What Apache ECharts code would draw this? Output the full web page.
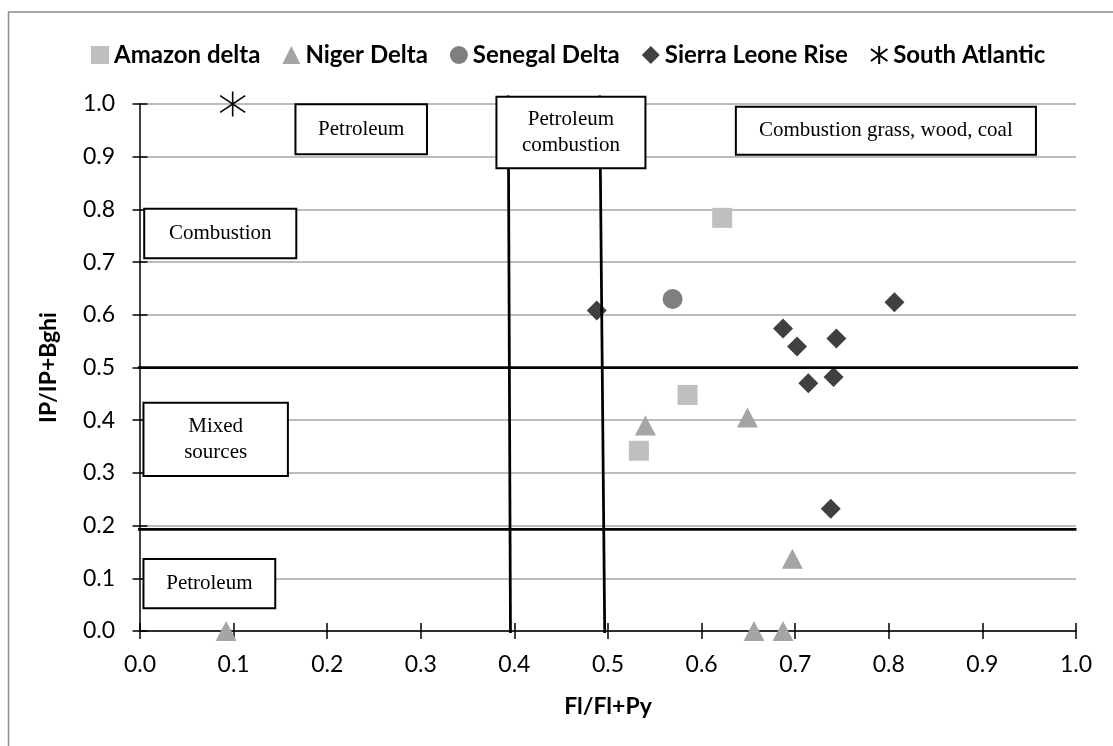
<!DOCTYPE html>
<html>
<head>
<meta charset="utf-8">
<script src="https://cdn.jsdelivr.net/npm/echarts@6/dist/echarts.min.js"></script>
<style>
  html, body { margin: 0; padding: 0; background: #fff; overflow: hidden; }
  #chart { width: 1113px; height: 746px; }
</style>
</head>
<body>
<div id="chart"></div>
<script>
// ---- data: [Fl/(Fl+Py), IP/(IP+Bghi)] per sample ----
const seriesNames = ['Amazon delta', 'Niger Delta', 'Senegal Delta', 'Sierra Leone Rise', 'South Atlantic'];

const amazonDelta = [[0.622, 0.784], [0.585, 0.448], [0.533, 0.342]];
const nigerDelta = [[0.092, 0.0], [0.540, 0.390], [0.649, 0.405], [0.697, 0.137], [0.656, 0.0], [0.687, 0.0]];
const senegalDelta = [[0.569, 0.630]];
const sierraLeoneRise = [[0.488, 0.608], [0.687, 0.574], [0.702, 0.540], [0.744, 0.555],
                         [0.714, 0.470], [0.741, 0.482], [0.738, 0.232], [0.806, 0.624]];
const southAtlantic = [[0.099, 1.0]];

// diagnostic ratio thresholds
const thresholdFl1 = [[0.3934, 1.016], [0.3958, -0.004]];
const thresholdFl2 = [[0.4911, 1.016], [0.4965, -0.004]];
const thresholdIp1 = [[-0.006, 0.5], [1.0035, 0.5]];
const thresholdIp2 = [[-0.006, 0.193], [1.0005, 0.193]];

// source-class labels
const regionLabels = ['Petroleum', 'Petroleum\ncombustion', 'Combustion grass, wood, coal',
                      'Combustion', 'Mixed\nsources', 'Petroleum'];

const axisTickValues = ['0.0', '0.1', '0.2', '0.3', '0.4', '0.5', '0.6', '0.7', '0.8', '0.9', '1.0'];

// ---- layout of the labelled region boxes, in axis units [x0, y0, x1, y1] ----
const regionBoxes = [
  [0.1661, 0.9994, 0.3066, 0.9046],
  [0.3808, 1.0139, 0.5400, 0.8780],
  [0.6366, 0.9949, 0.9572, 0.9038],
  [0.0045, 0.8013, 0.1670, 0.7072],
  [0.0037, 0.4332, 0.1580, 0.2941],
  [0.0037, 0.1366, 0.1445, 0.0431]
];

const SANS = 'Lato';
const SERIF = '"Liberation Serif"';
const tickFmt = v => axisTickValues[Math.round(v * 10)] ?? v.toFixed(1);

const starPath = 'path://M12,0 L12,24 M1,4 L23,20 M1,20 L23,4';

function thresholdSeries(data) {
  return {
    type: 'line', data, symbol: 'none', clip: false, silent: true, z: 4,
    lineStyle: { color: '#000', width: 2.75 }, animation: false
  };
}

const chart = echarts.init(document.getElementById('chart'), null, { renderer: 'canvas' });

const baseX = {
  type: 'value', min: 0, max: 1, interval: 0.1, position: 'bottom', gridIndex: 0
};
const baseY = {
  type: 'value', min: 0, max: 1, interval: 0.1, position: 'left', gridIndex: 0
};

chart.setOption({
  animation: false,
  backgroundColor: '#fff',
  textStyle: { fontFamily: SANS },
  legend: {
    left: 86, top: 38,
    itemWidth: 18, itemHeight: 18, itemGap: 22,
    data: seriesNames,
    textStyle: { fontFamily: SANS, fontWeight: 'bold', fontSize: 24, color: '#000' }
  },
  grid: { left: 140, top: 104, right: 37, bottom: 115 },
  xAxis: [
    Object.assign({}, baseX, {
      name: 'Fl/Fl+Py', nameLocation: 'middle', nameGap: 64,
      nameTextStyle: { fontFamily: SANS, fontWeight: 'bold', fontSize: 23, color: '#000' },
      axisLine: { show: true, lineStyle: { color: '#000', width: 1.5 } },
      axisTick: { show: true, inside: false, length: 8, lineStyle: { color: '#000', width: 1.5 } },
      axisLabel: { show: true, margin: 22, formatter: tickFmt, showMinLabel: true, showMaxLabel: true,
                   fontFamily: SANS, fontSize: 23, color: '#000' },
      splitLine: { show: false }
    }),
    Object.assign({}, baseX, {
      axisLine: { show: false },
      axisTick: { show: true, inside: true, length: 8, lineStyle: { color: '#000', width: 1.5 } },
      axisLabel: { show: false },
      splitLine: { show: false }
    })
  ],
  yAxis: [
    Object.assign({}, baseY, {
      name: 'IP/IP+Bghi', nameLocation: 'middle', nameGap: 80, nameRotate: 90,
      nameTextStyle: { fontFamily: SANS, fontWeight: 'bold', fontSize: 23, color: '#000' },
      axisLine: { show: true, lineStyle: { color: '#000', width: 1.5 } },
      axisTick: { show: true, inside: false, length: 7.5, lineStyle: { color: '#000', width: 1.5 } },
      axisLabel: { show: true, margin: 25, formatter: tickFmt, showMinLabel: true, showMaxLabel: true,
                   fontFamily: SANS, fontSize: 23, color: '#000' },
      splitLine: { show: true, lineStyle: { color: '#A6A6A6', width: 1.5 } }
    }),
    Object.assign({}, baseY, {
      axisLine: { show: false },
      axisTick: { show: true, inside: true, length: 7.5, lineStyle: { color: '#000', width: 1.5 } },
      axisLabel: { show: false },
      splitLine: { show: false }
    })
  ],
  series: [
    { name: seriesNames[0], type: 'scatter', data: amazonDelta, symbol: 'rect', symbolSize: 20,
      clip: false, z: 3, itemStyle: { color: '#BFBFBF', opacity: 1 } },
    { name: seriesNames[1], type: 'scatter', data: nigerDelta, symbol: 'triangle', symbolSize: [21, 20],
      clip: false, z: 3, itemStyle: { color: '#A5A5A5', opacity: 1 } },
    { name: seriesNames[2], type: 'scatter', data: senegalDelta, symbol: 'circle', symbolSize: 20,
      clip: false, z: 3, itemStyle: { color: '#7F7F7F', opacity: 1 } },
    { name: seriesNames[3], type: 'scatter', data: sierraLeoneRise, symbol: 'diamond', symbolSize: 20,
      clip: false, z: 3, itemStyle: { color: '#404040', opacity: 1 } },
    { name: seriesNames[4], type: 'scatter', data: southAtlantic, symbol: starPath, symbolSize: 25,
      clip: false, z: 3, itemStyle: { color: 'rgba(0,0,0,0)', borderColor: '#000', borderWidth: 1.6, opacity: 1 } },
    thresholdSeries(thresholdFl1),
    thresholdSeries(thresholdFl2),
    thresholdSeries(thresholdIp1),
    thresholdSeries(thresholdIp2),
    {
      type: 'custom', silent: true, clip: false, z: 6,
      data: regionBoxes,
      renderItem(params, api) {
        const p0 = api.coord([api.value(0), api.value(1)]);
        const p1 = api.coord([api.value(2), api.value(3)]);
        const x = Math.min(p0[0], p1[0]), y = Math.min(p0[1], p1[1]);
        const w = Math.abs(p1[0] - p0[0]), h = Math.abs(p1[1] - p0[1]);
        return {
          type: 'group',
          children: [
            { type: 'rect', shape: { x, y, width: w, height: h },
              style: { fill: '#fff', stroke: '#000', lineWidth: 2 } },
            { type: 'text',
              style: { text: regionLabels[params.dataIndex], x: x + w / 2, y: y + h / 2,
                       align: 'center', verticalAlign: 'middle', lineHeight: 26,
                       font: '21px ' + SERIF, fill: '#000' } }
          ]
        };
      }
    }
  ],
  graphic: [
    // chart frame: only its left and top edges fall inside the canvas
    { type: 'rect', silent: true, z: -1,
      shape: { x: 8.5, y: 12, width: 1200, height: 800 },
      style: { fill: 'none', stroke: '#8C8C8C', lineWidth: 1.5 } }
  ]
});
</script>
</body>
</html>
